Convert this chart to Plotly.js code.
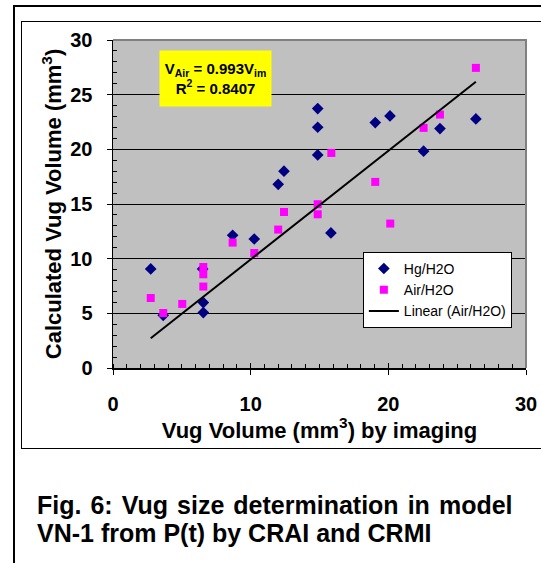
<!DOCTYPE html>
<html>
<head>
<meta charset="utf-8">
<script src="https://cdn.plot.ly/plotly-3.0.1.min.js"></script>
<style>
  html, body { margin: 0; padding: 0; background: #ffffff; }
  #wrap { position: relative; width: 541px; height: 563px; overflow: hidden; }
  #outer { position: absolute; left: 13px; top: 5px; width: 700px; height: 800px; border: 2px solid #000; box-sizing: border-box; }
  #inner { position: absolute; left: 21px; top: 21px; width: 700px; height: 428px; border: 1.5px solid #000; box-sizing: border-box; }
  #chart { position: absolute; left: 0; top: 0; width: 541px; height: 563px; }
</style>
</head>
<body>
<div id="wrap">
  <div id="outer"></div>
  <div id="inner"></div>
  <div id="chart"></div>
</div>
<script>
// Hg/H2O series (vug volume by imaging, calculated vug volume)
const hgX = [2.74, 3.65, 6.51, 6.56, 6.56, 8.69, 10.26, 12.0, 12.42, 14.87, 14.87, 14.87, 15.83, 19.05, 20.12, 22.56, 23.75, 26.36];
const hgY = [9.06, 4.82, 9.06, 5.98, 5.07, 12.14, 11.8, 16.8, 18.0, 23.73, 22.02, 19.49, 12.35, 22.45, 23.06, 19.83, 21.9, 22.78];
// Air/H2O series
const airX = [2.74, 3.65, 5.03, 6.56, 6.56, 6.56, 8.69, 10.26, 12.0, 12.42, 14.87, 14.87, 15.86, 19.05, 20.14, 22.56, 23.75, 26.36];
const airY = [6.4, 5.03, 5.86, 9.24, 8.57, 7.45, 11.47, 10.52, 12.66, 14.27, 14.98, 14.06, 19.67, 17.02, 13.21, 21.96, 23.18, 27.45];
// Linear trend (Air/H2O), through origin
const trendSlope = 0.993;
const rSquared = 0.8407;
// Axis ticks
const xTicks = [0, 10, 20, 30];
const yTicks = [0, 5, 10, 15, 20, 25, 30];
const seriesNames = ['Hg/H2O', 'Air/H2O', 'Linear (Air/H2O)'];
const captionLines = ['Fig. 6: Vug size determination in model', 'VN-1 from P(t) by CRAI and CRMI'];

const trendX = [Math.min(...airX), Math.max(...airX)];
const trendY = trendX.map(v => trendSlope * v);

const FONT = 'Liberation Sans, Arial, sans-serif';
// first caption line is justified in the reference: widen the word gaps slightly
const captionLine1 = captionLines[0].split(' ').join(' \u200A');

const traces = [
  { x: hgX, y: hgY, type: 'scatter', mode: 'markers', name: seriesNames[0], legendgroup: 'a',
    marker: { symbol: 'diamond', size: 9, color: '#000080', line: { width: 0 } } },
  { x: airX, y: airY, type: 'scatter', mode: 'markers', name: seriesNames[1], legendgroup: 'b',
    marker: { symbol: 'square', size: 8, color: '#FF00FF', line: { width: 0 } } },
  { x: trendX, y: trendY, type: 'scatter', mode: 'lines', name: seriesNames[2], legendgroup: 'c',
    line: { color: '#000000', width: 2 } },
  { x: [], y: [], xaxis: 'x2', type: 'scatter', mode: 'markers', showlegend: false, hoverinfo: 'skip' }
];

const layout = {
  width: 541, height: 563,
  margin: { l: 113, r: 15, t: 40, b: 195, pad: 0 },
  paper_bgcolor: 'rgba(0,0,0,0)',
  plot_bgcolor: '#C0C0C0',
  font: { family: FONT, color: '#000' },
  showlegend: true,
  legend: {
    x: 0.605, y: 0.354, xanchor: 'left', yanchor: 'top',
    bgcolor: '#ffffff', bordercolor: '#000000', borderwidth: 1,
    font: { family: FONT, size: 14, color: '#000' },
    traceorder: 'grouped', tracegroupgap: 0
  },
  xaxis: {
    range: [0, 30], tickvals: xTicks, ticktext: xTicks.map(String),
    ticks: 'outside', ticklen: 5, tickwidth: 1, tickcolor: '#000',
    minor: { dtick: 1, ticks: 'inside', ticklen: 4, tickwidth: 1, tickcolor: '#000', showgrid: false },
    showgrid: false, zeroline: false, showline: true, linecolor: '#000', linewidth: 1.5,
    tickfont: { family: FONT, size: 20, color: '#000', weight: 'bold' },
    ticklabelstandoff: 12,
    title: { text: 'Vug Volume (mm<sup>3</sup>) by imaging', standoff: 0,
             font: { family: FONT, size: 22, color: '#000', weight: 'bold' } },
    automargin: false, fixedrange: true
  },
  xaxis2: {
    overlaying: 'x', anchor: 'y', side: 'bottom', range: [0, 30], tickvals: xTicks,
    ticks: 'inside', ticklen: 5, tickwidth: 1, tickcolor: '#000',
    showticklabels: false, showgrid: false, zeroline: false, showline: false, fixedrange: true
  },
  yaxis: {
    range: [0, 30], tickvals: yTicks, ticktext: yTicks.map(String),
    ticks: 'outside', ticklen: 5, tickwidth: 1, tickcolor: '#000',
    minor: { dtick: 1, ticks: 'inside', ticklen: 4, tickwidth: 1, tickcolor: '#000', showgrid: false },
    showgrid: true, gridcolor: '#000', gridwidth: 1,
    zeroline: false, showline: true, linecolor: '#000', linewidth: 1.5,
    tickfont: { family: FONT, size: 20, color: '#000', weight: 'bold' },
    ticklabelstandoff: 10,
    title: { text: 'Calculated Vug Volume (mm<sup>3</sup>)', standoff: 2,
             font: { family: FONT, size: 22, color: '#000', weight: 'bold' } },
    automargin: false, fixedrange: true
  },
  shapes: [
    { type: 'path', xref: 'paper', yref: 'paper', path: 'M 0,1 L 1,1 L 1,0',
      line: { color: '#808080', width: 2 }, layer: 'above' }
  ],
  annotations: [
    { xref: 'paper', yref: 'paper', x: 0.249, y: 0.883, xanchor: 'center', yanchor: 'middle',
      showarrow: false, bgcolor: '#FFFF00', width: 109, height: 53,
      text: 'V<sub>Air</sub> = ' + trendSlope.toFixed(3) + 'V<sub>im</sub><br>R<sup>2</sup> = ' + rSquared.toFixed(4),
      font: { family: FONT, size: 15, color: '#000', weight: 'bold' } },
    { xref: 'paper', yref: 'paper', x: -0.189, y: -0.419, xanchor: 'left', yanchor: 'middle',
      showarrow: false, text: captionLine1,
      font: { family: FONT, size: 25, color: '#000', weight: 'bold' } },
    { xref: 'paper', yref: 'paper', x: -0.189, y: -0.504, xanchor: 'left', yanchor: 'middle',
      showarrow: false, text: captionLines[1],
      font: { family: FONT, size: 25, color: '#000', weight: 'bold' } }
  ]
};

Plotly.newPlot('chart', traces, layout, { displayModeBar: false, staticPlot: true });
</script>
</body>
</html>
